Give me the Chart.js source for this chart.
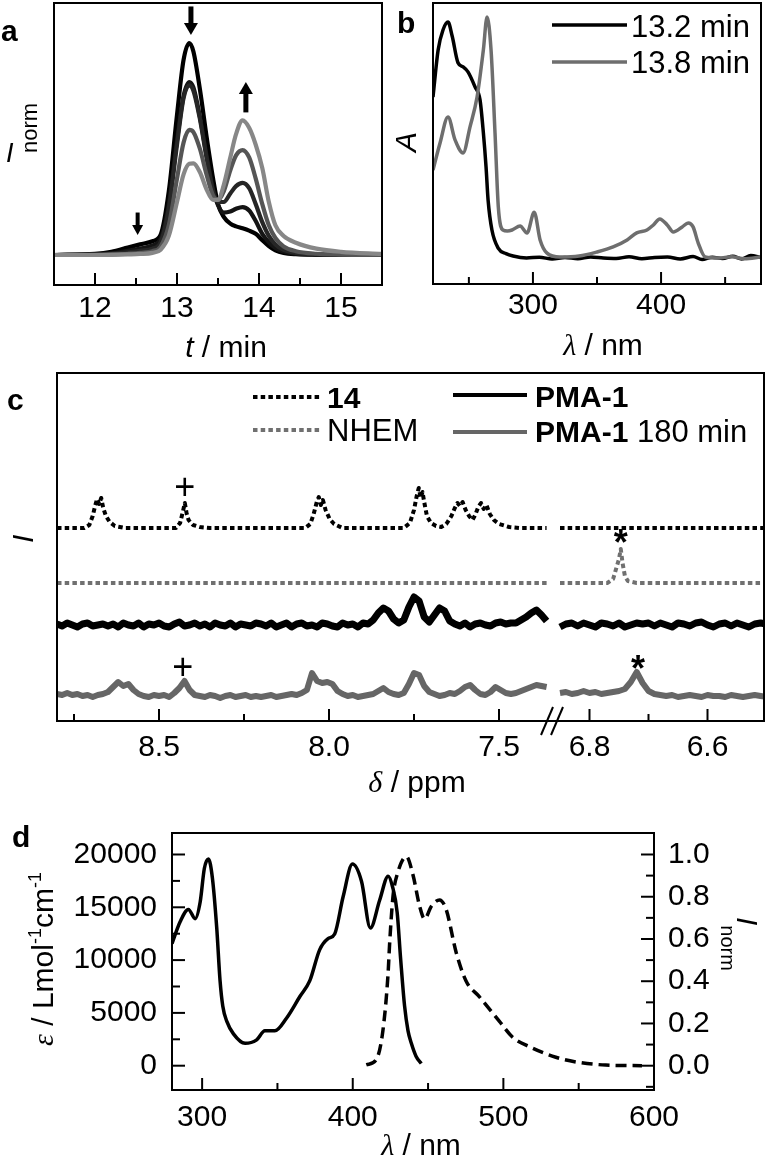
<!DOCTYPE html>
<html>
<head>
<meta charset="utf-8">
<script src="https://cdn.jsdelivr.net/npm/chart.js"></script>
<style>
html, body { margin: 0; padding: 0; background: #fff; }
#wrap { position: relative; width: 770px; height: 1166px; overflow: hidden; background: #fff; }
canvas { position: absolute; }
</style>
</head>
<body>
<div id="wrap">
<canvas id="ca" width="390" height="362" style="left:0px;top:0px;width:390px;height:362px"></canvas>
<canvas id="cb" width="380" height="362" style="left:390px;top:0px;width:380px;height:362px"></canvas>
<canvas id="cc" width="770" height="440" style="left:0px;top:365px;width:770px;height:440px"></canvas>
<canvas id="cd" width="770" height="366" style="left:0px;top:800px;width:770px;height:366px"></canvas>
</div>
<script>
// ================= DATA =================
// ---- Panel a: SEC traces (t / min vs I_norm) ----
const aTime   = [11.5, 12.0, 12.2, 12.4, 12.55, 12.7, 12.8, 12.9, 13.0, 13.08, 13.15, 13.2, 13.28, 13.36, 13.44, 13.5, 13.57, 13.65, 13.72, 13.8, 13.88, 13.96, 14.04, 14.12, 14.2, 14.3, 14.45, 14.7, 15.0, 15.5];
const aTrace1 = [0, 0.005, 0.015, 0.035, 0.05, 0.065, 0.095, 0.3, 0.66, 0.92, 1.0, 0.96, 0.78, 0.56, 0.36, 0.24, 0.18, 0.148, 0.135, 0.126, 0.115, 0.1, 0.07, 0.042, 0.022, 0.01, 0.004, 0.001, 0, 0];
const aTrace2 = [0, 0.003, 0.008, 0.02, 0.03, 0.045, 0.075, 0.24, 0.54, 0.75, 0.816, 0.79, 0.65, 0.47, 0.31, 0.235, 0.2, 0.205, 0.218, 0.226, 0.21, 0.16, 0.1, 0.06, 0.033, 0.016, 0.006, 0.002, 0, 0];
const aTrace3 = [0, 0.002, 0.005, 0.012, 0.02, 0.03, 0.06, 0.22, 0.52, 0.74, 0.80, 0.775, 0.64, 0.46, 0.3, 0.25, 0.25, 0.29, 0.325, 0.34, 0.315, 0.24, 0.155, 0.09, 0.05, 0.024, 0.01, 0.003, 0.001, 0];
const aTrace4 = [0, 0.001, 0.003, 0.006, 0.01, 0.018, 0.04, 0.14, 0.36, 0.53, 0.59, 0.58, 0.5, 0.38, 0.28, 0.26, 0.3, 0.4, 0.47, 0.495, 0.46, 0.36, 0.24, 0.14, 0.08, 0.04, 0.018, 0.006, 0.002, 0];
const aTrace5 = [0, 0, 0.001, 0.003, 0.005, 0.01, 0.025, 0.09, 0.25, 0.38, 0.43, 0.432, 0.39, 0.31, 0.26, 0.26, 0.33, 0.46, 0.57, 0.635, 0.6, 0.52, 0.41, 0.25, 0.14, 0.09, 0.058, 0.03, 0.015, 0.005];
const aTickValues = [12, 13, 14, 15];
const aTickLabels = ['12', '13', '14', '15'];
const aMinorTicks = [12.5, 13.5, 14.5];
const aArrowTime = [13.17, 13.84, 12.52];
const aArrowTail = [1.17, 0.675, 0.198];
const aArrowTip  = [1.038, 0.816, 0.094];

// ---- Panel b: UV spectra (lambda / nm vs A) ----
const bBlackWl  = [222, 226, 229.8, 233.7, 237, 241.5, 245.5, 249.3, 254.8, 258.7, 261.3, 263.4, 265, 268, 273, 279, 284.5, 295, 305, 315, 325, 335, 345, 355, 365, 375, 385, 395, 405, 415, 425, 432, 440, 448, 456, 463, 470, 478];
const bBlackAbs = [0.668, 0.863, 0.946, 0.979, 0.92, 0.81, 0.793, 0.772, 0.71, 0.656, 0.52, 0.378, 0.24, 0.116, 0.04, 0.018, 0.008, 0, 0.003, -0.004, 0.002, -0.003, 0.004, 0, -0.002, 0.005, -0.003, 0.002, 0.004, -0.004, 0.006, -0.006, 0.003, -0.002, 0.007, -0.004, 0.01, 0.002];
const bGrayWl   = [222, 227.5, 233.7, 239.2, 245.5, 250.9, 256.4, 261.3, 264.2, 267.3, 270.4, 273, 276.6, 280, 283.7, 290, 295.4, 301, 305.6, 311, 321, 336, 350, 362.6, 373.5, 381, 389, 394, 399, 404.8, 409.5, 416.5, 421.2, 425, 429, 434.5, 445, 455, 465, 478];
const bGrayAbs  = [0.365, 0.477, 0.585, 0.49, 0.436, 0.544, 0.668, 0.863, 1.0, 0.863, 0.519, 0.21, 0.116, 0.112, 0.116, 0.133, 0.104, 0.19, 0.075, 0.02, 0.004, 0.008, 0.025, 0.046, 0.075, 0.104, 0.116, 0.137, 0.162, 0.137, 0.108, 0.129, 0.145, 0.129, 0.062, 0.004, 0, 0.005, -0.003, 0.004];
const bSeriesNames = ['13.2 min', '13.8 min'];
const bTickValues = [300, 400];
const bTickLabels = ['300', '400'];
const bMinorTicks = [250, 350, 450];

// ---- Panel c: 1H NMR (delta / ppm), stacked traces ----
const c14Seg1Ppm = [8.80, 8.72, 8.705, 8.695, 8.688, 8.682, 8.676, 8.67, 8.664, 8.656, 8.645, 8.63, 8.60, 8.45, 8.438, 8.43, 8.424, 8.419, 8.413, 8.40, 8.38, 8.35, 8.07, 8.055, 8.045, 8.036, 8.03, 8.024, 8.018, 8.01, 7.998, 7.985, 7.96, 7.78, 7.762, 7.75, 7.742, 7.736, 7.73, 7.725, 7.72, 7.712, 7.70, 7.685, 7.67, 7.655, 7.64, 7.63, 7.622, 7.615, 7.607, 7.598, 7.588, 7.578, 7.57, 7.561, 7.553, 7.545, 7.537, 7.527, 7.515, 7.50, 7.47, 7.44, 7.36];
const c14Seg1Val = [0, 0, 3, 12, 22, 29, 24, 30, 20, 12, 6, 2, 0, 0, 5, 16, 25, 15, 8, 3, 1, 0, 0, 4, 14, 26, 31, 23, 28, 18, 9, 4, 0, 0, 5, 18, 32, 40, 30, 36, 26, 12, 5, 2, 1, 4, 12, 20, 25, 22, 26, 18, 12, 8, 13, 21, 25, 19, 23, 14, 8, 4, 1, 0, 0];
const c14Seg2Ppm = [6.85, 6.50];
const c14Seg2Val = [0, 0];
const cNhemSeg1Ppm = [8.80, 7.36];
const cNhemSeg1Val = [0, 0];
const cNhemSeg2Ppm = [6.85, 6.77, 6.76, 6.755, 6.75, 6.747, 6.744, 6.74, 6.735, 6.72, 6.50];
const cNhemSeg2Val = [0, 0, 4, 14, 24, 34, 20, 7, 2, 0, 0];
// PMA-1: sampled every 0.015 ppm from 8.80 (segment 1) and every 0.01 ppm from 6.85 (segment 2)
const pma1Seg1 = [1, -1, 2, 0, -2, 1, 2, -1, 0, 1,
  -1, 1, -2, 2, 0, -1, 2, -2, 1, 0,
  2, -1, -2, 1, 3, -1, 0, 2, -1, 1,
  -2, 2, 0, -1, 2, -2, 1, 0, -1, 2,
  1, -1, 2, -2, 0, 2, -2, 1, 2, -1,
  0, -2, 2, 1, -1, -2, 2, 0, 1, -2,
  2, 1, 5, 12, 17, 14, 6, 2, 5, 18,
  28, 24, 8, 3, 10, 17, 14, 4, 1, -1,
  2, -2, 1, 2, 0, -1, 2, 3, 1, 2,
  2, 5, 8, 12, 15, 10, 4];
const pma1Seg2 = [-2, 1, 2, -1, 2, 0, -2, 2, 1, -1, 2, -2, 0, 2, 1, 2, -1, 2, 0, -2, 2, 1, -1, 2, 3, 0, -2, 1, 2, -1, 2, 0, -2, 1, 2, 1];
const pma180Seg1 = [2, 1, 3, 1, 2, 0, 1, -1, 1, 2,
  4, 9, 14, 10, 12, 6, 2, 0, -1, 1,
  0, 1, -1, 3, 8, 15, 6, 1, 0, -1,
  1, 0, -2, 0, 1, -1, 0, 1, -1, 0,
  -1, 0, 1, -1, 0, 1, 2, 1, 3, 6,
  23, 15, 13, 14, 12, 5, 2, 0, 1, -1,
  0, 1, 2, 5, 8, 4, 2, 1, 3, 12,
  23, 21, 10, 4, 2, 0, 1, 3, 2, 5,
  9, 11, 6, 2, 1, 4, 9, 6, 3, 2,
  3, 5, 7, 9, 11, 10, 9];
const pma180Seg2 = [3, 4, 2, 3, 5, 3, 4, 2, 3, 4, 5, 7, 14, 24, 13, 5, 2, 1, 0, 1, -1, 0, 1, 0, -1, 1, 0, 0, -1, 1, 0, -1, 0, 1, 0, -1];
const cSeg1StartPpm = 8.80, cSeg1Step = 0.015, cSeg2StartPpm = 6.85, cSeg2Step = 0.01;
const cOffsets = [193, 138, 96, 25];   // stacking offsets: 14, NHEM, PMA-1, PMA-1 180 min
const cLegendBold  = ['14', '', 'PMA-1', 'PMA-1'];
const cLegendPlain = ['', 'NHEM', '', ' 180 min'];
const cTickPpm    = [8.5, 8.0, 7.5, 6.8, 6.6];
const cTickLabels = ['8.5', '8.0', '7.5', '6.8', '6.6'];
const cMinorPpm   = [8.75, 8.25, 7.75, 6.7];
const cMarkSym = ['+', '+', '*', '*'];
const cMarkPpm = [8.424, 8.43, 6.747, 6.718];
const cMarkVal = [235, 55, 185, 59];

// ---- Panel d: absorption (epsilon) and emission (I_norm) ----
const dAbsWl  = [280, 285.4, 290.9, 295.4, 298.7, 301.5, 304.2, 306.8, 309.7, 311.9, 313.7, 316.4, 320.8, 328.5, 336, 341.7, 348.3, 356, 364.9, 371.5, 378, 383.6, 388, 393.6, 399.8, 405.8, 411.7, 417.9, 423.5, 426.5, 429.5, 431.8, 434.4, 436.7, 438.9, 442, 445.5];
const dAbsEps = [11566, 13630, 14800, 13920, 15500, 18700, 19580, 17800, 13040, 8050, 5660, 4190, 3010, 2120, 2420, 3300, 3300, 4500, 6550, 8050, 10970, 12030, 12470, 16000, 19090, 17460, 13040, 15690, 17950, 16900, 14500, 10090, 5660, 3300, 2120, 900, 200];
const dEmWl   = [409, 415.7, 420, 423.4, 424.5, 426.7, 430, 435.6, 440, 444.4, 447.7, 452.2, 457.6, 462, 468.7, 475.3, 484, 497.4, 506, 517, 534.8, 548, 568, 592];
const dEmInt  = [0.004, 0.03, 0.165, 0.43, 0.58, 0.8, 0.917, 0.99, 0.903, 0.755, 0.695, 0.755, 0.785, 0.74, 0.535, 0.4, 0.327, 0.21, 0.136, 0.091, 0.04, 0.018, 0.003, 0];
const dXTicks = [300, 400, 500, 600];
const dXTickLabels = ['300', '400', '500', '600'];
const dXMinor = [350, 450, 550];
const dYTicks = [0, 5000, 10000, 15000, 20000];
const dYTickLabels = ['0', '5000', '10000', '15000', '20000'];
const dYMinor = [2500, 7500, 12500, 17500];
const dY2Ticks = [0, 0.2, 0.4, 0.6, 0.8, 1.0];
const dY2TickLabels = ['0.0', '0.2', '0.4', '0.6', '0.8', '1.0'];
const dY2Minor = [-0.1, 0.1, 0.3, 0.5, 0.7, 0.9];

// sanity checks
[[aTime, aTrace1], [aTime, aTrace2], [aTime, aTrace3], [aTime, aTrace4], [aTime, aTrace5],
 [bBlackWl, bBlackAbs], [bGrayWl, bGrayAbs], [c14Seg1Ppm, c14Seg1Val], [cNhemSeg2Ppm, cNhemSeg2Val],
 [dAbsWl, dAbsEps], [dEmWl, dEmInt]].forEach((p, i) => { if (p[0].length !== p[1].length) throw new Error('length mismatch ' + i + ': ' + p[0].length + ' vs ' + p[1].length); });

// ================= HELPERS =================
const SANS = '"Liberation Sans", Arial, Helvetica, sans-serif';
const SERIF = '"Liberation Serif", "DejaVu Serif", serif';
const F = (size, style) => (style ? style + ' ' : '') + size + 'px ' + SANS;
const FS = (size, style) => (style ? style + ' ' : '') + size + 'px ' + SERIF;
Chart.defaults.font.family = SANS;
Chart.defaults.color = '#000';
const tickFont = { size: 30, family: SANS };

function richText(ctx, parts, x, y, align, rot) {
  ctx.save();
  ctx.translate(x, y);
  if (rot) ctx.rotate(rot);
  ctx.textAlign = 'left';
  ctx.textBaseline = 'alphabetic';
  ctx.fillStyle = '#000';
  let total = 0;
  const widths = parts.map(p => { ctx.font = p.f; const w = ctx.measureText(p.t).width; total += w; return w; });
  let cx = align === 'center' ? -total / 2 : (align === 'right' ? -total : 0);
  parts.forEach((p, i) => { ctx.font = p.f; ctx.fillText(p.t, cx, p.dy || 0); cx += widths[i]; });
  ctx.restore();
}

function drawArrow(ctx, x, y0, y1, sw, hw, hl) {
  const dir = Math.sign(y1 - y0);
  const yh = y1 - dir * hl;
  ctx.save();
  ctx.fillStyle = '#000';
  ctx.fillRect(x - sw / 2, Math.min(y0, yh) - 0.5, sw, Math.abs(yh - y0) + 1);
  ctx.beginPath();
  ctx.moveTo(x - hw / 2, yh);
  ctx.lineTo(x + hw / 2, yh);
  ctx.lineTo(x, y1);
  ctx.closePath();
  ctx.fill();
  ctx.restore();
}

function decor(name, tickSpecs, extra) {
  return {
    id: 'decor_' + name,
    afterDraw(chart) {
      const ctx = chart.ctx, a = chart.chartArea;
      ctx.save();
      ctx.strokeStyle = '#000';
      ctx.lineWidth = 2;
      ctx.setLineDash([]);
      tickSpecs.forEach(t => {
        const s = chart.scales[t.scale];
        t.values.forEach(v => {
          const p = s.getPixelForValue(v);
          ctx.beginPath();
          if (t.side === 'bottom') { ctx.moveTo(p, a.bottom); ctx.lineTo(p, a.bottom - t.len); }
          else if (t.side === 'left') { ctx.moveTo(a.left, p); ctx.lineTo(a.left + t.len, p); }
          else { ctx.moveTo(a.right, p); ctx.lineTo(a.right - t.len, p); }
          ctx.stroke();
        });
      });
      ctx.strokeRect(a.left, a.top, a.right - a.left, a.bottom - a.top);
      ctx.restore();
      if (extra) { ctx.save(); extra(chart, ctx); ctx.restore(); }
    }
  };
}

function mkTicks(s, vals) { s.ticks = vals.map(v => ({ value: v })); }

function xAxis(min, max, vals, labels, pad, h) {
  return {
    type: 'linear', position: 'bottom', min: min, max: max,
    grid: { display: false, drawTicks: false }, border: { display: false },
    ticks: { font: tickFont, color: '#000', padding: pad, autoSkip: false, maxRotation: 0, minRotation: 0,
             callback: (v, i) => labels[i] },
    afterBuildTicks: s => mkTicks(s, vals),
    afterFit: s => { s.height = h; }
  };
}

const common = { responsive: false, animation: false, devicePixelRatio: 1,
  plugins: { legend: { display: false }, tooltip: { enabled: false } } };

// ================= PANEL a =================
const aSeries = [aTrace1, aTrace2, aTrace3, aTrace4, aTrace5];
const aColors = ['#000000', '#141414', '#262626', '#555555', '#878787'];
new Chart(document.getElementById('ca'), {
  type: 'line',
  data: { datasets: aSeries.map((vals, k) => ({
    data: aTime.map((t, i) => ({ x: t, y: vals[i] })),
    borderColor: aColors[k], borderWidth: 4.2, pointRadius: 0, fill: false,
    cubicInterpolationMode: 'monotone', borderJoinStyle: 'round', borderCapStyle: 'round', order: 4 - k
  })) },
  options: Object.assign({}, common, {
    layout: { padding: { left: 54, right: 8, top: 3, bottom: 0 } },
    scales: {
      x: xAxis(11.5, 15.5, aTickValues, aTickLabels, 6, 77),
      y: { type: 'linear', display: false, min: -0.1415, max: 1.1887 }
    }
  }),
  plugins: [decor('a', [
    { scale: 'x', side: 'bottom', values: aTickValues, len: 12 },
    { scale: 'x', side: 'bottom', values: aMinorTicks, len: 7 }
  ], (chart, ctx) => {
    const xs = chart.scales.x, ys = chart.scales.y;
    aArrowTime.forEach((t, k) => {
      const small = k === 2;
      drawArrow(ctx, xs.getPixelForValue(t), ys.getPixelForValue(aArrowTail[k]), ys.getPixelForValue(aArrowTip[k]),
        small ? 4 : 5, small ? 11 : 14, small ? 10 : 12);
    });
    richText(ctx, [{ t: 'a', f: F(30, 'bold') }], 1, 41);
    richText(ctx, [{ t: 'I', f: F(27, 'italic') }], 6, 162);
    richText(ctx, [{ t: 'norm', f: F(22) }], 37, 153, 'left', -Math.PI / 2);
    richText(ctx, [{ t: 't', f: F(30, 'italic') }, { t: ' / min', f: F(30) }], 226, 357, 'center');
  })]
});

// ================= PANEL b =================
new Chart(document.getElementById('cb'), {
  type: 'line',
  data: { datasets: [
    { label: bSeriesNames[0], data: bBlackWl.map((w, i) => ({ x: w, y: bBlackAbs[i] })),
      borderColor: '#000000', borderWidth: 3.5, pointRadius: 0, cubicInterpolationMode: 'monotone', borderJoinStyle: 'round', order: 1 },
    { label: bSeriesNames[1], data: bGrayWl.map((w, i) => ({ x: w, y: bGrayAbs[i] })),
      borderColor: '#6e6e6e', borderWidth: 3.5, pointRadius: 0, cubicInterpolationMode: 'monotone', borderJoinStyle: 'round', order: 0 }
  ] },
  options: Object.assign({}, common, {
    layout: { padding: { left: 43, right: 9, top: 3, bottom: 0 } },
    scales: {
      x: xAxis(222, 478, bTickValues, bTickLabels, 4, 78),
      y: { type: 'linear', display: false, min: -0.108, max: 1.058 }
    }
  }),
  plugins: [decor('b', [
    { scale: 'x', side: 'bottom', values: bTickValues, len: 12 },
    { scale: 'x', side: 'bottom', values: bMinorTicks, len: 7 }
  ], (chart, ctx) => {
    richText(ctx, [{ t: 'b', f: F(30, 'bold') }], 7, 33);
    richText(ctx, [{ t: 'A', f: F(30, 'italic') }], 26, 152, 'left', -Math.PI / 2);
    richText(ctx, [{ t: 'λ', f: FS(30, 'italic') }, { t: ' / nm', f: F(30) }], 213, 355, 'center');
    const rowY = [25, 62], rowBase = [37, 73];
    chart.data.datasets.forEach((ds, k) => {
      ctx.save();
      ctx.strokeStyle = ds.borderColor; ctx.lineWidth = ds.borderWidth; ctx.setLineDash([]);
      ctx.beginPath(); ctx.moveTo(162, rowY[k]); ctx.lineTo(237, rowY[k]); ctx.stroke();
      ctx.restore();
      richText(ctx, [{ t: ds.label, f: F(31) }], 241, rowBase[k]);
    });
  })]
});

// ================= PANEL c =================
// broken delta axis: 8.80..7.36 ppm (340 px/ppm) and 6.85..6.50 ppm (590 px/ppm)
const cAxisLeftPpm = 8.80, cPxPerPpm1 = 340, cSeg2StartU = 503, cPxPerPpm2 = 590;
function toU(p) { return p > 7.0 ? (cAxisLeftPpm - p) * cPxPerPpm1 : cSeg2StartU + (cSeg2StartPpm - p) * cPxPerPpm2; }
const gapPoint = { x: (toU(7.36) + toU(6.85)) / 2, y: null };
function ppmSeries(ppm, vals, off) { return ppm.map((p, i) => ({ x: toU(p), y: vals[i] + off })); }
function gridSeries(start, step, vals, off) { return vals.map((v, i) => ({ x: toU(start - step * i), y: v + off })); }

const cSets = [
  [...ppmSeries(c14Seg1Ppm, c14Seg1Val, cOffsets[0]), gapPoint, ...ppmSeries(c14Seg2Ppm, c14Seg2Val, cOffsets[0])],
  [...ppmSeries(cNhemSeg1Ppm, cNhemSeg1Val, cOffsets[1]), gapPoint, ...ppmSeries(cNhemSeg2Ppm, cNhemSeg2Val, cOffsets[1])],
  [...gridSeries(cSeg1StartPpm, cSeg1Step, pma1Seg1, cOffsets[2]), gapPoint, ...gridSeries(cSeg2StartPpm, cSeg2Step, pma1Seg2, cOffsets[2])],
  [...gridSeries(cSeg1StartPpm, cSeg1Step, pma180Seg1, cOffsets[3]), gapPoint, ...gridSeries(cSeg2StartPpm, cSeg2Step, pma180Seg2, cOffsets[3])]
];
const cStyles = [
  { c: '#000000', w: 4, d: [4.5, 3.2] },
  { c: '#707070', w: 4, d: [4.5, 3.2] },
  { c: '#000000', w: 7, d: [] },
  { c: '#666666', w: 6, d: [] }
];
new Chart(document.getElementById('cc'), {
  type: 'line',
  data: { datasets: cSets.map((pts, k) => ({
    label: cLegendBold[k] + cLegendPlain[k], data: pts,
    borderColor: cStyles[k].c, borderWidth: cStyles[k].w, borderDash: cStyles[k].d,
    pointRadius: 0, tension: 0, spanGaps: false, borderJoinStyle: 'round', borderCapStyle: 'butt'
  })) },
  options: Object.assign({}, common, {
    layout: { padding: { left: 57, right: 6, top: 8, bottom: 0 } },
    scales: {
      x: xAxis(0, 707, cTickPpm.map(toU), cTickLabels, 9, 84),
      y: { type: 'linear', display: false, min: 0, max: 348 }
    }
  }),
  plugins: [decor('c', [
    { scale: 'x', side: 'bottom', values: cTickPpm.map(toU), len: 12 },
    { scale: 'x', side: 'bottom', values: cMinorPpm.map(toU), len: 7 }
  ], (chart, ctx) => {
    const xs = chart.scales.x, ys = chart.scales.y;
    // axis break marks
    ctx.save();
    ctx.strokeStyle = '#000'; ctx.lineWidth = 2;
    ctx.beginPath(); ctx.moveTo(541, 370); ctx.lineTo(553, 342); ctx.stroke();
    ctx.beginPath(); ctx.moveTo(551, 370); ctx.lineTo(563, 342); ctx.stroke();
    ctx.restore();
    // peak marks
    cMarkSym.forEach((s, k) => {
      const x = xs.getPixelForValue(toU(cMarkPpm[k])), y = ys.getPixelForValue(cMarkVal[k]);
      ctx.save();
      ctx.font = s === '*' ? F(36, 'bold') : F(36);
      ctx.fillStyle = '#000'; ctx.textAlign = 'center'; ctx.textBaseline = 'alphabetic';
      const m = ctx.measureText(s);
      ctx.fillText(s, x, y + (m.actualBoundingBoxAscent - m.actualBoundingBoxDescent) / 2);
      ctx.restore();
    });
    // legend
    const lx0 = [253, 253, 453, 453], lx1 = [320, 320, 527, 527], ly = [32, 65, 30, 67];
    const tx = [327, 327, 535, 535], tb = [43, 76, 42, 77];
    chart.data.datasets.forEach((ds, k) => {
      ctx.save();
      ctx.strokeStyle = ds.borderColor; ctx.lineWidth = Math.min(ds.borderWidth, 4); ctx.setLineDash(ds.borderDash || []);
      ctx.beginPath(); ctx.moveTo(lx0[k], ly[k]); ctx.lineTo(lx1[k], ly[k]); ctx.stroke();
      ctx.restore();
      const parts = [];
      if (cLegendBold[k]) parts.push({ t: cLegendBold[k], f: F(30, 'bold') });
      if (cLegendPlain[k]) parts.push({ t: cLegendPlain[k], f: F(31) });
      richText(ctx, parts, tx[k], tb[k]);
    });
    richText(ctx, [{ t: 'c', f: F(30, 'bold') }], 7, 45);
    richText(ctx, [{ t: 'I', f: F(30, 'italic') }], 33, 178, 'left', -Math.PI / 2);
    richText(ctx, [{ t: 'δ', f: FS(30, 'italic') }, { t: ' / ppm', f: F(30) }], 417, 427, 'center');
  })]
});

// ================= PANEL d =================
new Chart(document.getElementById('cd'), {
  type: 'line',
  data: { datasets: [
    { label: 'absorption', data: dAbsWl.map((w, i) => ({ x: w, y: dAbsEps[i] })), yAxisID: 'y',
      borderColor: '#000', borderWidth: 3.5, pointRadius: 0, cubicInterpolationMode: 'monotone', borderJoinStyle: 'round' },
    { label: 'emission', data: dEmWl.map((w, i) => ({ x: w, y: dEmInt[i] })), yAxisID: 'y2',
      borderColor: '#000', borderWidth: 3.5, borderDash: [11, 6], pointRadius: 0, cubicInterpolationMode: 'monotone', borderJoinStyle: 'round' }
  ] },
  options: Object.assign({}, common, {
    layout: { padding: { left: 0, right: 0, top: 15, bottom: 0 } },
    scales: {
      x: xAxis(280, 600, dXTicks, dXTickLabels, 10, 76),
      y: { type: 'linear', position: 'left', min: -2301, max: 22035,
           grid: { display: false, drawTicks: false }, border: { display: false },
           ticks: { font: tickFont, color: '#000', padding: 15, autoSkip: false, callback: (v, i) => dYTickLabels[i] },
           afterBuildTicks: s => mkTicks(s, dYTicks), afterFit: s => { s.width = 172; } },
      y2: { type: 'linear', position: 'right', min: -0.11504, max: 1.10177,
           grid: { display: false, drawTicks: false }, border: { display: false },
           ticks: { font: tickFont, color: '#000', padding: 14, autoSkip: false, callback: (v, i) => dY2TickLabels[i] },
           afterBuildTicks: s => mkTicks(s, dY2Ticks), afterFit: s => { s.width = 116; } }
    }
  }),
  plugins: [decor('d', [
    { scale: 'x', side: 'bottom', values: dXTicks, len: 12 },
    { scale: 'x', side: 'bottom', values: dXMinor, len: 7 },
    { scale: 'y', side: 'left', values: dYTicks, len: 13 },
    { scale: 'y', side: 'left', values: dYMinor, len: 8 },
    { scale: 'y2', side: 'right', values: dY2Ticks, len: 13 },
    { scale: 'y2', side: 'right', values: dY2Minor, len: 8 }
  ], (chart, ctx) => {
    richText(ctx, [{ t: 'd', f: F(30, 'bold') }], 12, 47);
    richText(ctx, [
      { t: 'ε', f: FS(30, 'italic') }, { t: ' / Lmol', f: F(30) }, { t: '-1', f: F(18), dy: -12 },
      { t: 'cm', f: F(30) }, { t: '-1', f: F(18), dy: -12 }
    ], 53, 159, 'center', -Math.PI / 2);
    richText(ctx, [{ t: 'I', f: F(30, 'italic') }, { t: 'norm', f: F(20), dy: 16 }], 737, 117, 'left', Math.PI / 2);
    richText(ctx, [{ t: 'λ', f: FS(30, 'italic') }, { t: ' / nm', f: F(30) }], 421, 355, 'center');
  })]
});
</script>
</body>
</html>
